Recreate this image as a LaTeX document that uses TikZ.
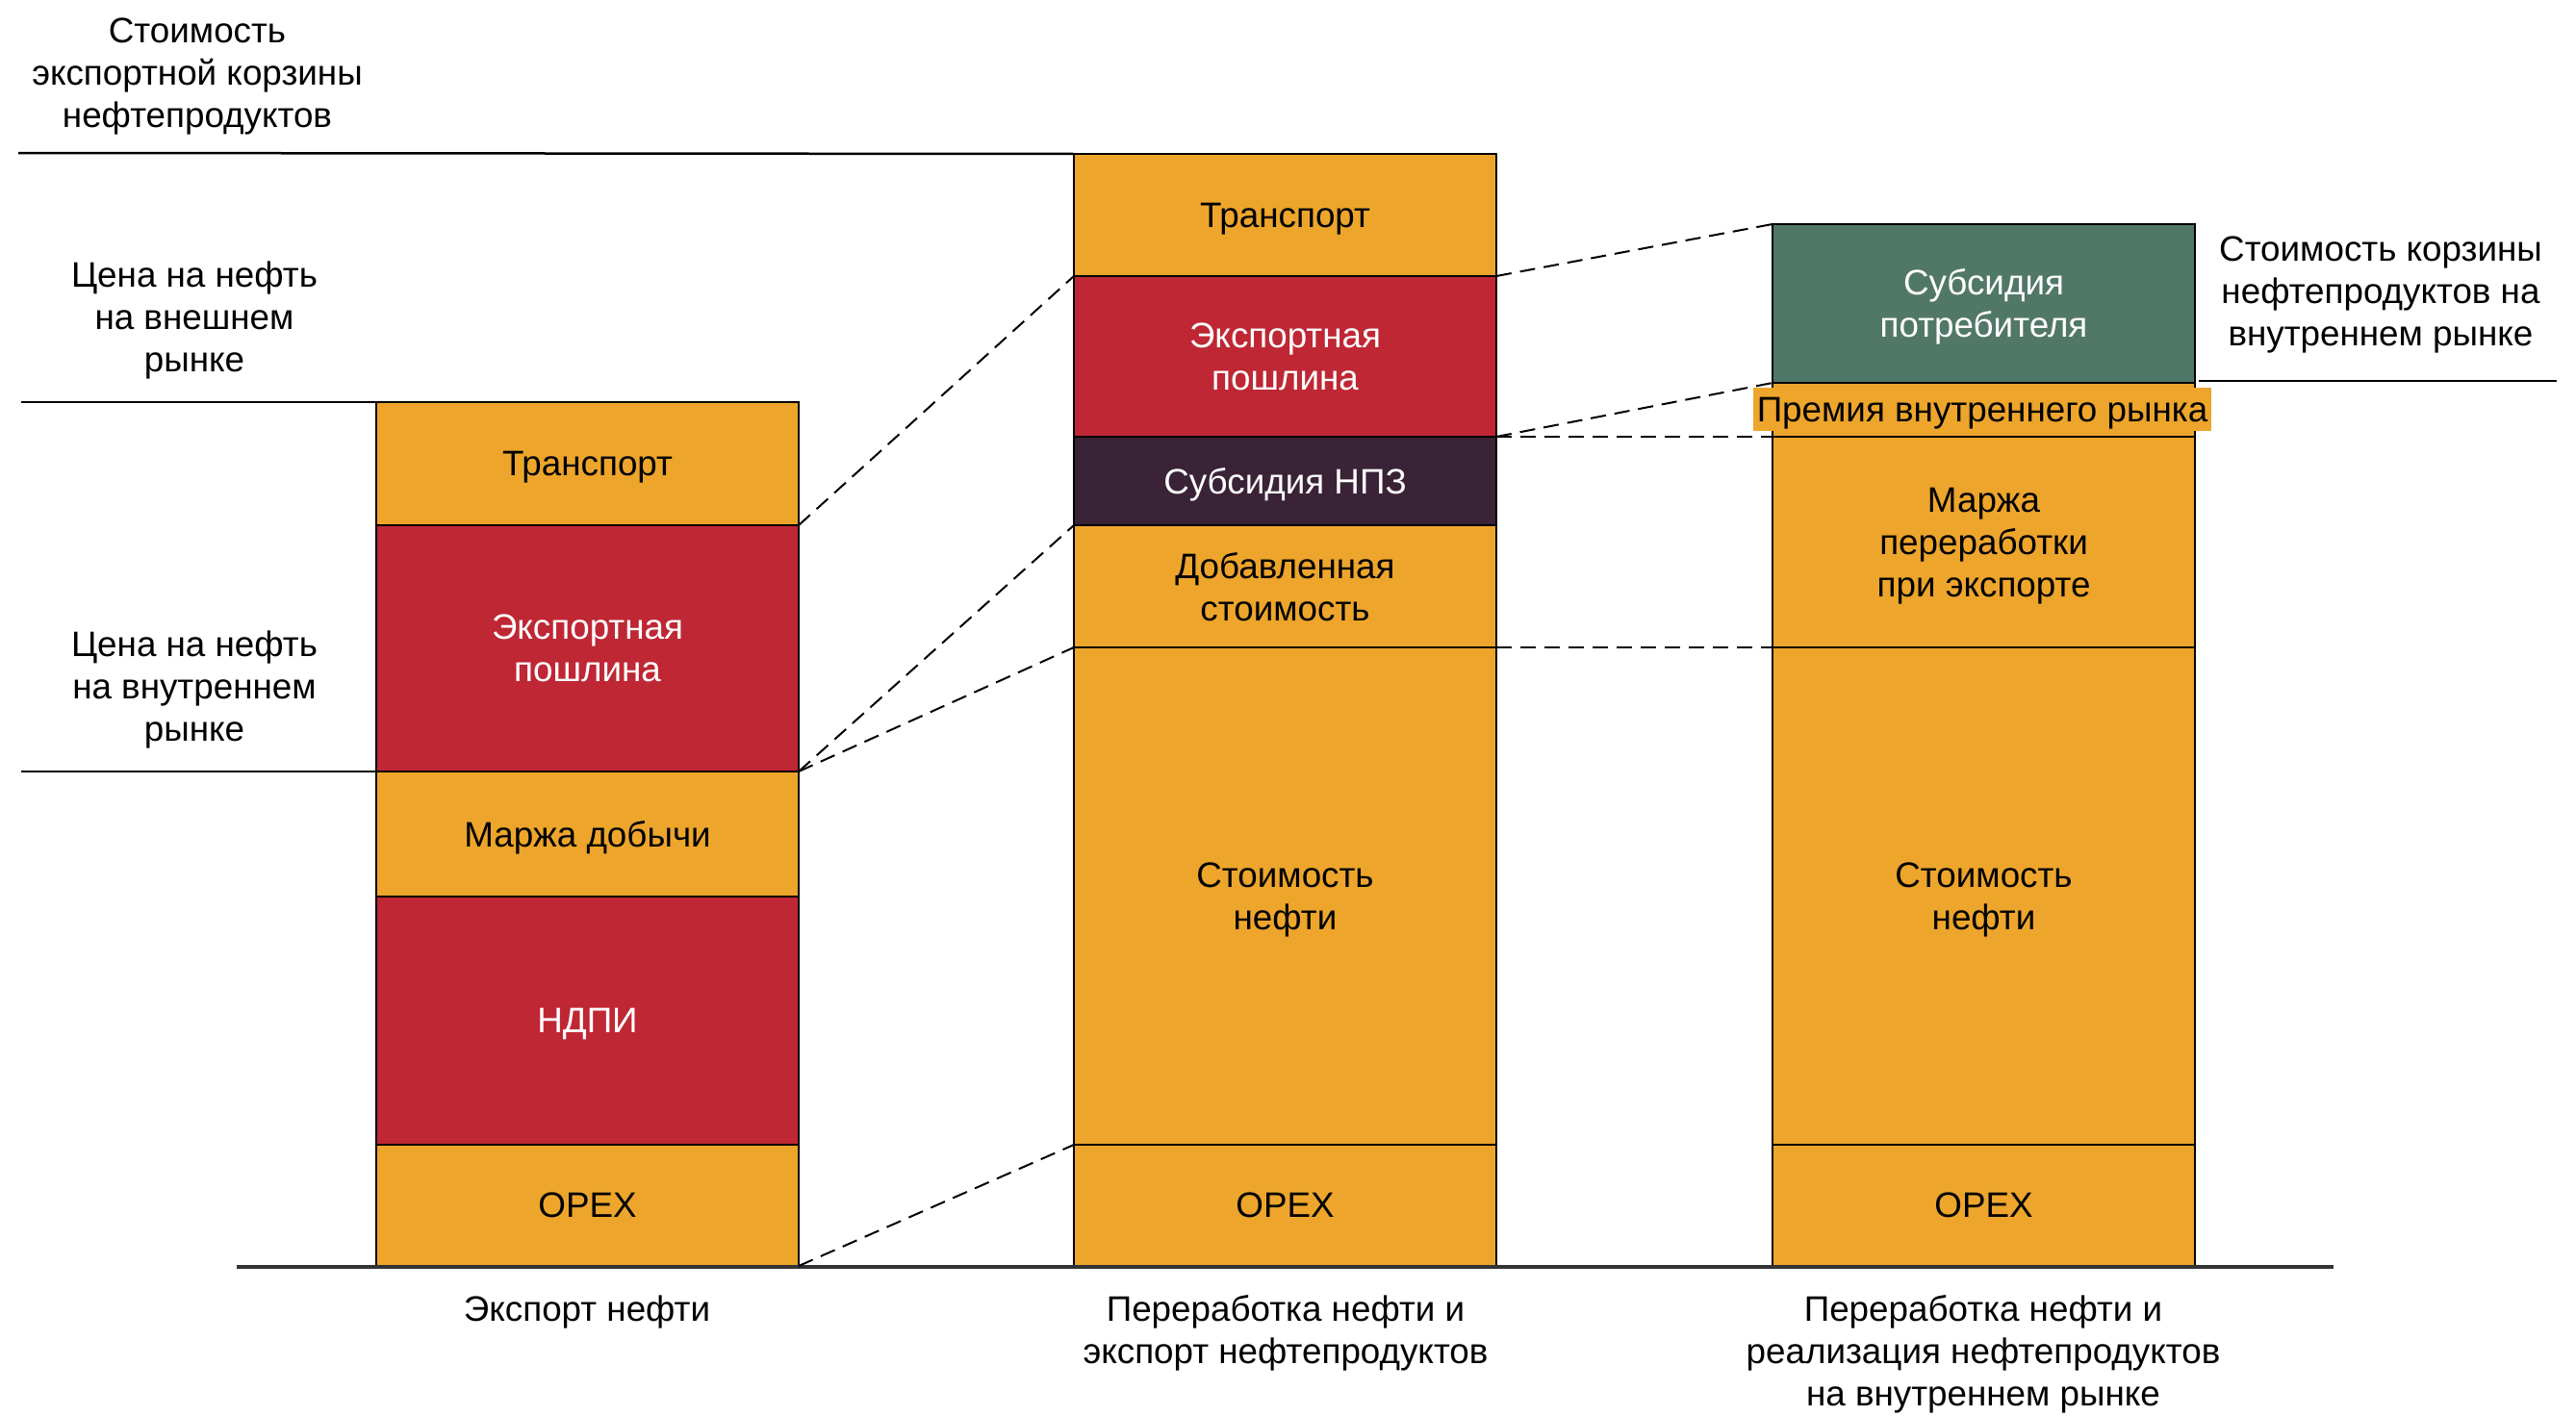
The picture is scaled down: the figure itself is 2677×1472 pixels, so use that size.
\documentclass[tikz,border=0pt]{standalone}
\usepackage{fontspec}
\setmainfont{Liberation Sans}
\definecolor{cor}{HTML}{EDA52C}
\definecolor{cred}{HTML}{BF2734}
\definecolor{cdark}{HTML}{3A2336}
\definecolor{cgreen}{HTML}{517767}
\definecolor{cbase}{HTML}{333333}
\newcommand{\lblfont}{\fontsize{36.8}{44}\selectfont}
\begin{document}
\begin{tikzpicture}[x=1pt,y=-1pt,
  seg/.style={draw=black, line width=2pt, minimum width=439pt, inner sep=0pt, outer sep=0pt, anchor=north west, align=center, font=\lblfont, text depth=0pt},
  segor/.style={seg, fill=cor, text=black},
  segred/.style={seg, fill=cred, text=white},
  segdark/.style={seg, fill=cdark, text=white},
  seggreen/.style={seg, fill=cgreen, text=white},
  lbl/.style={align=center, font=\lblfont, inner sep=0pt},
  levelline/.style={line width=2.5pt, draw=black},
  dashline/.style={line width=2pt, dash pattern=on 16pt off 9pt},
  baseline/.style={line width=3.5pt, draw=cbase}]
\useasboundingbox (0,0) rectangle (2677,1472);

% Column 1
\node[segor, minimum height=128pt] (c1tr) at (391,418) {Транспорт};
\node[segred, minimum height=256pt] (c1exp) at (391,546) {Экспортная\\пошлина};
\node[segor, minimum height=130pt] (c1mar) at (391,802) {Маржа добычи};
\node[segred, minimum height=258pt] (c1ndpi) at (391,932) {НДПИ};
\node[segor, minimum height=126pt] (c1opex) at (391,1190) {OPEX};

% Column 2
\node[segor, minimum height=127pt] (c2tr) at (1116,160) {Транспорт};
\node[segred, minimum height=167pt] (c2exp) at (1116,287) {Экспортная\\пошлина};
\node[segdark, minimum height=92pt] (c2sub) at (1116,454) {Субсидия НПЗ};
\node[segor, minimum height=127pt] (c2add) at (1116,546) {Добавленная\\стоимость};
\node[segor, minimum height=517pt] (c2cost) at (1116,673) {Стоимость\\нефти};
\node[segor, minimum height=126pt] (c2opex) at (1116,1190) {OPEX};

% Column 3
\node[seggreen, minimum height=165pt] (c3sub) at (1842,233) {Субсидия\\потребителя};
\node[segor, minimum height=56pt] (c3prem) at (1842,398) {};
\node[segor, minimum height=219pt] (c3mar) at (1842,454) {Маржа\\переработки\\при экспорте};
\node[segor, minimum height=517pt] (c3cost) at (1842,673) {Стоимость\\нефти};
\node[segor, minimum height=126pt] (c3opex) at (1842,1190) {OPEX};
\node[fill=cor, font=\lblfont, inner xsep=4pt, inner ysep=0pt, minimum height=45pt, text depth=0pt] (prem) at (2060,425.5) {Премия внутреннего рынка};

% Level lines
\coordinate (l1) at (19,159);
\coordinate (l2) at (22,418);
\coordinate (l3) at (22,802);
\coordinate (r1) at (2657,396);
\draw[levelline] (l1) -- (c2tr.north west);
\draw[levelline] (l2) -- (c1tr.north west);
\draw[levelline] (l3) -- (c1exp.south west);
\draw[levelline] (c3sub.south east) ++(4,-2) coordinate (r0) (r0) -- (r1);

% Base line
\coordinate (b0) at (246,1317);
\coordinate (b1) at (2425,1317);
\draw[baseline] (b0) -- (b1);

% Dashed connectors
\draw[dashline] (c1exp.north east) -- (c2exp.north west);
\draw[dashline] (c1exp.south east) -- (c2add.north west);
\draw[dashline] (c1exp.south east) -- (c2cost.north west);
\draw[dashline] (c1opex.south east) -- (c2opex.north west);
\draw[dashline] (c2exp.north east) -- (c3sub.north west);
\draw[dashline] (c2exp.south east) -- (c3prem.north west);
\draw[dashline] (c2exp.south east) -- (c3mar.north west);
\draw[dashline] (c2cost.north east) -- (c3cost.north west);

% Side labels
\node[lbl] (t1) at (205,79) {Стоимость\\экспортной корзины\\нефтепродуктов};
\node[lbl] (t2) at (202,333) {Цена на нефть\\на внешнем\\рынке};
\node[lbl] (t3) at (202,717) {Цена на нефть\\на внутреннем\\рынке};
\node[lbl] (t4) at (2474,306) {Стоимость корзины\\нефтепродуктов на\\внутреннем рынке};

% Bottom labels
\node[lbl] (bl1) at (610,1364) {Экспорт нефти};
\node[lbl] (bl2) at (1336,1386) {Переработка нефти и\\экспорт нефтепродуктов};
\node[lbl] (bl3) at (2061,1408) {Переработка нефти и\\реализация нефтепродуктов\\на внутреннем рынке};
\end{tikzpicture}
\end{document}
